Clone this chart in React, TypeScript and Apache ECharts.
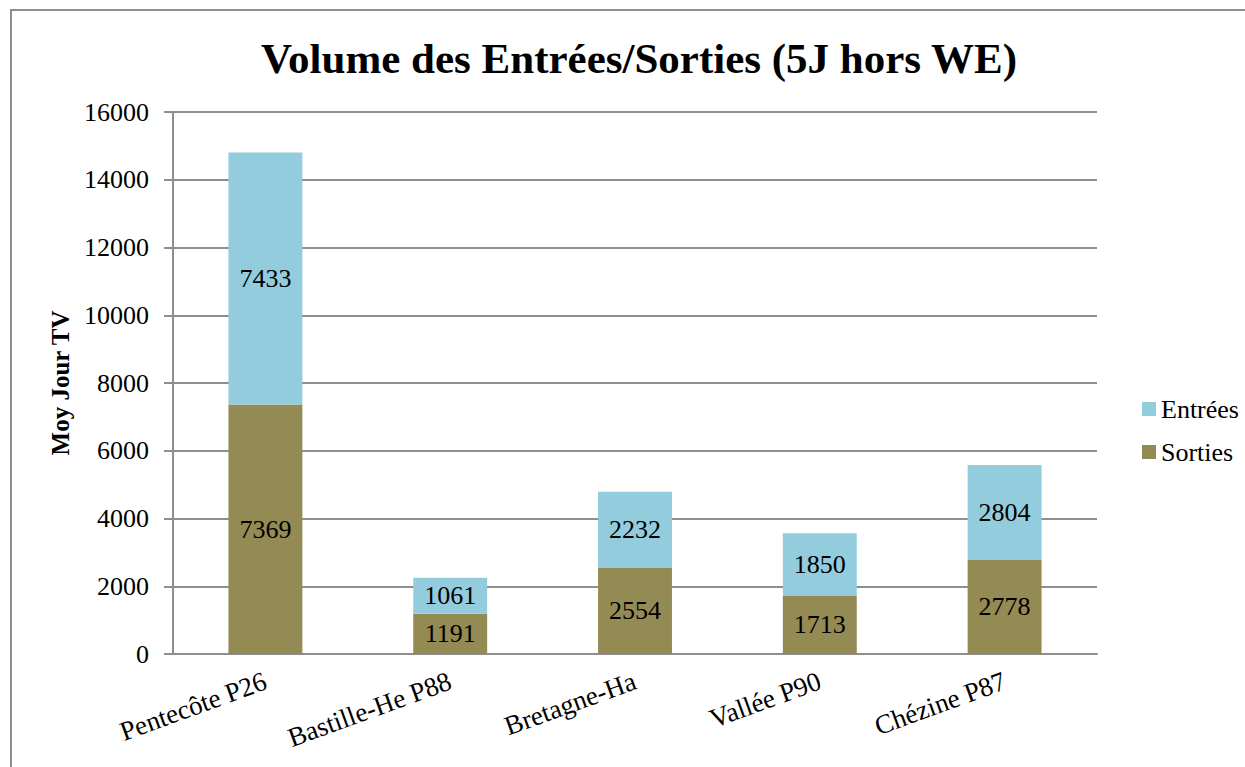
import React, { useEffect, useRef } from "react";
import * as echarts from "echarts";

const categories = ["Pentecôte P26", "Bastille-He P88", "Bretagne-Ha", "Vallée P90", "Chézine P87"];
const sorties = [7369, 1191, 2554, 1713, 2778];
const entrees = [7433, 1061, 2232, 1850, 2804];
const yTicks = { min: 0, max: 16000, interval: 2000 };

const FONT = "Liberation Serif";
const GRAY = "#8e8e8e";

export default function App() {
  const ref = useRef<HTMLDivElement>(null);
  useEffect(() => {
    if (!ref.current) return;
    const chart = echarts.init(ref.current, undefined, { renderer: "svg" });
    chart.setOption({
      animation: false,
      backgroundColor: "#ffffff",
      textStyle: { fontFamily: FONT },
      title: {
        text: "Volume des Entrées/Sorties (5J hors WE)",
        left: 256,
        top: 32,
        textStyle: { fontFamily: FONT, fontSize: 43, fontWeight: "bold", color: "#000" },
      },
      graphic: [
        {
          type: "rect",
          shape: { x: 11, y: 10, width: 1260, height: 800 },
          style: { fill: "none", stroke: GRAY, lineWidth: 2 },
          silent: true,
          z: -10,
        },
      ],
      legend: {
        orient: "vertical",
        left: 1137,
        top: 391,
        itemWidth: 14,
        itemHeight: 14,
        itemGap: 17,
        icon: "rect",
        data: ["Entrées", "Sorties"],
        textStyle: { fontFamily: FONT, fontSize: 26, color: "#000" },
      },
      grid: { left: 173, right: 148, top: 112, bottom: 113 },
      xAxis: {
        type: "category",
        data: categories,
        axisLine: { lineStyle: { color: GRAY, width: 2 } },
        axisTick: { length: 9, lineStyle: { color: GRAY, width: 2 } },
        axisLabel: {
          rotate: 20,
          interval: 0,
          margin: 26,
          fontFamily: FONT,
          fontSize: 27,
          color: "#000",
        },
      },
      yAxis: {
        type: "value",
        min: yTicks.min,
        max: yTicks.max,
        interval: yTicks.interval,
        name: "Moy Jour TV",
        nameLocation: "middle",
        nameGap: 100,
        nameRotate: 90,
        nameTextStyle: { fontFamily: FONT, fontSize: 25, fontWeight: "bold", color: "#000" },
        axisLine: { show: true, lineStyle: { color: GRAY, width: 2 } },
        axisTick: { show: true, length: 9, lineStyle: { color: GRAY, width: 2 } },
        splitLine: { lineStyle: { color: GRAY, width: 2 } },
        axisLabel: {
          fontFamily: FONT,
          fontSize: 26,
          color: "#000",
          margin: 24,
          formatter: (v: number) => String(v),
        },
      },
      series: [
        {
          name: "Sorties",
          type: "bar",
          stack: "total",
          barWidth: "40%",
          data: sorties,
          itemStyle: { color: "#948A54" },
          label: { show: true, position: "inside", fontFamily: FONT, fontSize: 26, color: "#000" },
        },
        {
          name: "Entrées",
          type: "bar",
          stack: "total",
          barWidth: "40%",
          data: entrees,
          itemStyle: { color: "#93CDDD" },
          label: { show: true, position: "inside", fontFamily: FONT, fontSize: 26, color: "#000" },
        },
      ],
    });
    return () => chart.dispose();
  }, []);
  return (
    <div
      ref={ref}
      style={{ position: "fixed", left: 0, top: 0, width: 1245, height: 767, background: "#fff" }}
    />
  );
}
